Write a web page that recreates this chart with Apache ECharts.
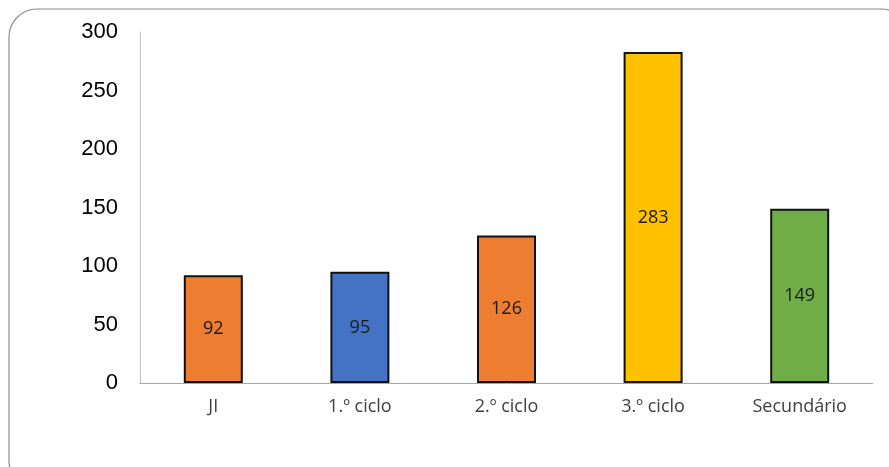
<!DOCTYPE html>
<html>
<head>
<meta charset="utf-8">
<script src="https://cdn.jsdelivr.net/npm/echarts@6/dist/echarts.min.js"></script>
<style>
  html, body { margin: 0; padding: 0; background: #fff; }
  #chart { width: 889px; height: 467px; }
</style>
</head>
<body>
<div id="chart"></div>
<script>
  // dados
  const categories = ['JI', '1.º ciclo', '2.º ciclo', '3.º ciclo', 'Secundário']
  const values = [92, 95, 126, 283, 149]
  const barColors = ['#ED7D31', '#4472C4', '#ED7D31', '#FFC000', '#70AD47']
  const yTicks = [0, 50, 100, 150, 200, 250, 300]

  const chart = echarts.init(document.getElementById('chart'))
  chart.setOption({
    animation: false,
    backgroundColor: '#fff',
    graphic: [{
      type: 'rect',
      shape: { x: 9, y: 9, width: 900, height: 480, r: 28 },
      style: { fill: 'none', stroke: '#8c8c8c', lineWidth: 1.2 },
      silent: true
    }],
    grid: { left: 140, right: 16, top: 32, bottom: 84 },
    xAxis: {
      type: 'category',
      data: categories,
      axisLine: { lineStyle: { color: '#a6a6a6', width: 1 } },
      axisTick: { show: false },
      axisLabel: {
        color: '#404040',
        fontFamily: 'Open Sans',
        fontSize: 18,
        margin: 15
      }
    },
    yAxis: {
      type: 'value',
      min: yTicks[0],
      max: yTicks[yTicks.length - 1],
      interval: 50,
      axisLine: { show: true, lineStyle: { color: '#bfbfbf', width: 1 } },
      axisTick: { show: false },
      splitLine: { show: false },
      axisLabel: {
        color: '#000',
        fontFamily: 'Liberation Sans',
        fontSize: 22,
        margin: 22
      }
    },
    series: [{
      type: 'bar',
      barWidth: 59,
      data: values.map((v, i) => ({
        value: v,
        itemStyle: { color: barColors[i] }
      })),
      itemStyle: { borderColor: '#111', borderWidth: 2 },
      label: {
        show: true,
        position: 'inside',
        color: '#1a1a1a',
        fontFamily: 'Open Sans',
        fontSize: 18
      }
    }]
  })
</script>
</body>
</html>
